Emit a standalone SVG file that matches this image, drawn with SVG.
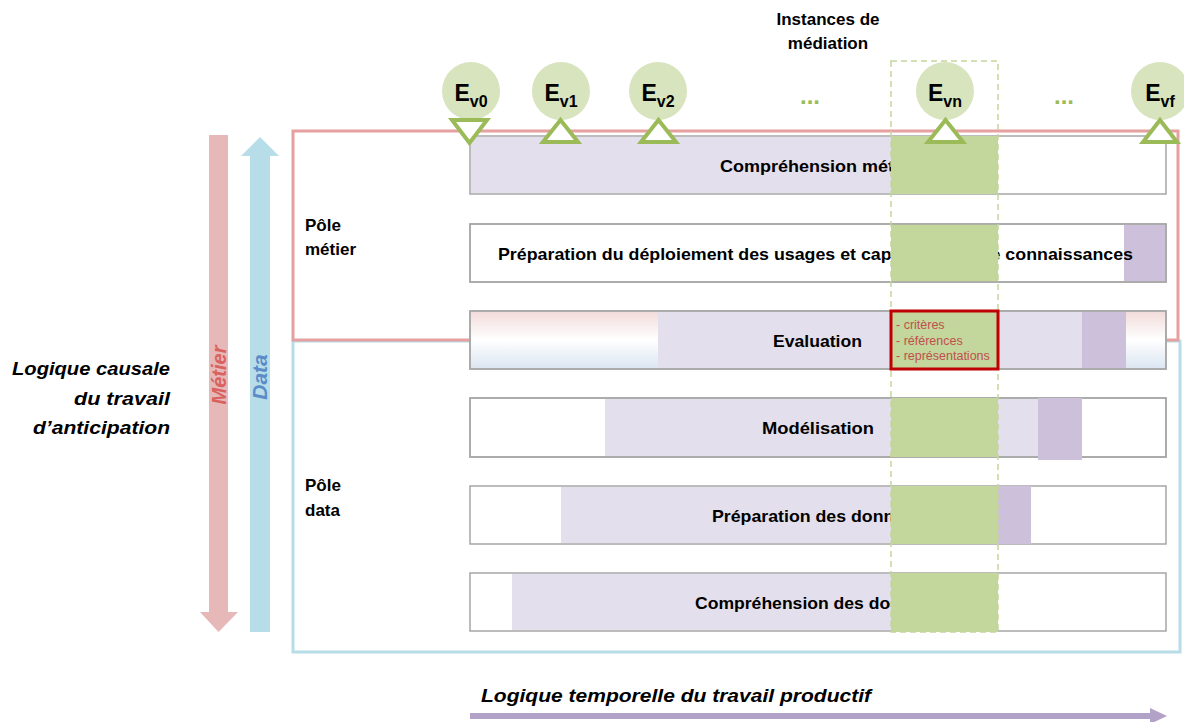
<svg xmlns="http://www.w3.org/2000/svg" width="1184" height="722" viewBox="0 0 1184 722">
<defs>
<linearGradient id="evalGrad" x1="0" y1="0" x2="0" y2="1">
<stop offset="0" stop-color="#F2DCDB"/>
<stop offset="0.5" stop-color="#FFFFFF"/>
<stop offset="1" stop-color="#DCE6F2"/>
</linearGradient>
<style>
.t{font-family:"Liberation Sans",Arial,sans-serif;font-weight:bold;fill:#000}
.lbl{font-size:17px}
.it{font-style:italic}
.row{fill:#FFFFFF;stroke:#A6A6A6;stroke-width:1.5}
.rowo{fill:none;stroke:#A6A6A6;stroke-width:1.5}
.lp{fill:#E4DFEC}
.dp{fill:#CCC0DA}
.gr{fill:#C3D69B}
.ev{fill:#D7E4BD}
.tri{fill:#FFFFFF;stroke:#9BBB59;stroke-width:4}
.dots{font-size:24px;fill:#9BBB59}
.crit{font-family:"Liberation Sans",Arial,sans-serif;font-size:12.5px;fill:#C0504D}
</style>
</defs>
<rect width="1184" height="722" fill="#FFFFFF"/>

<g id="pole-data-frame"><rect x="293" y="341" width="887" height="311" fill="none" stroke="#B7DDE8" stroke-width="3"/></g>
<g id="pole-metier-frame"><rect x="293" y="131" width="885" height="209" fill="none" stroke="#E6A0A0" stroke-width="3"/></g>

<g id="row-comprehension-metier">
<rect class="row" x="470" y="136" width="696" height="58"/>
<rect class="lp" x="471" y="137" width="420" height="56"/>
<text class="t lbl" x="720" y="171.5" textLength="196" lengthAdjust="spacingAndGlyphs">Compréhension métier</text>
<rect class="gr" x="891" y="136" width="107" height="58"/>
</g>

<g id="row-preparation-deploiement">
<rect class="row" x="470" y="224" width="696" height="58"/>
<rect class="dp" x="1124" y="225" width="41" height="56"/>
<text class="t lbl" x="498" y="259.5" textLength="635" lengthAdjust="spacingAndGlyphs">Préparation du déploiement des usages et capitalisation de connaissances</text>
<rect class="gr" x="891" y="224" width="107" height="58"/>
<rect class="rowo" x="470" y="224" width="696" height="58"/>
</g>

<g id="row-evaluation">
<rect class="row" x="470" y="311" width="696" height="58"/>
<rect x="471" y="312" width="187" height="56" fill="url(#evalGrad)"/>
<rect class="lp" x="658" y="312" width="424" height="56"/>
<rect class="dp" x="1082" y="312" width="44" height="56"/>
<rect x="1126" y="312" width="39" height="56" fill="url(#evalGrad)"/>
<rect class="rowo" x="470" y="311" width="696" height="58"/>
<text class="t lbl" x="773" y="346.5" textLength="89" lengthAdjust="spacingAndGlyphs">Evaluation</text>
</g>

<g id="row-modelisation">
<rect class="row" x="470" y="398" width="696" height="59"/>
<rect class="lp" x="605" y="399" width="433" height="57"/>
<rect class="rowo" x="470" y="398" width="696" height="59"/>
<rect class="dp" x="1038" y="398" width="44" height="62"/>
<text class="t lbl" x="762" y="434" textLength="112" lengthAdjust="spacingAndGlyphs">Modélisation</text>
<rect class="gr" x="891" y="398" width="107" height="59"/>
</g>

<g id="row-preparation-donnees">
<rect class="row" x="470" y="486" width="696" height="58"/>
<rect class="lp" x="561" y="487" width="330" height="56"/>
<rect class="dp" x="998" y="486" width="33" height="58"/>
<text class="t lbl" x="712" y="521.5" textLength="212" lengthAdjust="spacingAndGlyphs">Préparation des données</text>
<rect class="gr" x="891" y="486" width="107" height="58"/>
</g>

<g id="row-comprehension-donnees">
<rect class="row" x="470" y="573" width="696" height="58"/>
<rect class="lp" x="512" y="574" width="379" height="56"/>
<text class="t lbl" x="695" y="608.5" textLength="246" lengthAdjust="spacingAndGlyphs">Compréhension des données</text>
<rect class="gr" x="891" y="573" width="107" height="59"/>
</g>

<g id="mediation-instance">
<rect x="891" y="61" width="107" height="571" fill="none" stroke="#C3D69B" stroke-width="1.5" stroke-dasharray="6,4"/>
<rect x="891" y="311" width="107" height="58" fill="#C3D69B" stroke="#C00000" stroke-width="3"/>
<text class="crit" x="896" y="328.5">- critères</text>
<text class="crit" x="896" y="344.5">- références</text>
<text class="crit" x="896" y="360">- représentations</text>
</g>

<g id="title-instances">
<text class="t" x="828" y="25" font-size="17" text-anchor="middle">Instances de</text>
<text class="t" x="828" y="49" font-size="17" text-anchor="middle">médiation</text>
</g>

<g id="ev0">
<circle class="ev" cx="471" cy="91" r="29"/>
<text class="t" x="471" y="101" font-size="23" text-anchor="middle">E<tspan font-size="16" dy="6">v0</tspan></text>
<polygon class="tri" points="452,120 487,120 469.5,143"/>
</g>
<g id="ev1">
<circle class="ev" cx="561" cy="91" r="29"/>
<text class="t" x="561" y="101" font-size="23" text-anchor="middle">E<tspan font-size="16" dy="6">v1</tspan></text>
<polygon class="tri" points="543,142 578,142 560.5,120"/>
</g>
<g id="ev2">
<circle class="ev" cx="658" cy="91" r="29"/>
<text class="t" x="658" y="101" font-size="23" text-anchor="middle">E<tspan font-size="16" dy="6">v2</tspan></text>
<polygon class="tri" points="641,142 676,142 658.5,120"/>
</g>
<g id="dots-1"><text class="t dots" x="810" y="104" text-anchor="middle">...</text></g>
<g id="evn">
<circle class="ev" cx="945" cy="91" r="29"/>
<text class="t" x="945" y="101" font-size="23" text-anchor="middle">E<tspan font-size="16" dy="6">vn</tspan></text>
<polygon class="tri" points="928,142 963,142 945.5,120"/>
</g>
<g id="dots-2"><text class="t dots" x="1064" y="104" text-anchor="middle">...</text></g>
<g id="evf">
<circle class="ev" cx="1160" cy="91" r="29"/>
<text class="t" x="1160" y="101" font-size="23" text-anchor="middle">E<tspan font-size="16" dy="6">vf</tspan></text>
<polygon class="tri" points="1143,142 1177,142 1160,120"/>
</g>

<g id="pole-labels">
<text class="t" x="305" y="231" font-size="17">Pôle</text>
<text class="t" x="305" y="255" font-size="17">métier</text>
<text class="t" x="305" y="491" font-size="17">Pôle</text>
<text class="t" x="305" y="516" font-size="17">data</text>
</g>

<g id="connectors">
<polygon points="209,135 228,135 228,612 238,612 218.5,632 200,612 209,612" fill="#E6B8B7"/>
<polygon points="250,632 270,632 270,156 279,156 260,137 241,156 250,156" fill="#B7DDE8"/>
<line x1="470" y1="716" x2="1152" y2="716" stroke="#B3A2C7" stroke-width="6"/>
<polygon points="1150,708 1167,716 1150,724" fill="#B3A2C7"/>
</g>

<g id="axis-labels">
<text class="t it" x="226" y="375" font-size="20" style="fill:#D9625E" text-anchor="middle" transform="rotate(-90 226 375)">Métier</text>
<text class="t it" x="267" y="377" font-size="21" style="fill:#5B8BC9" text-anchor="middle" transform="rotate(-90 267 377)">Data</text>
<text class="t it" x="170" y="375" font-size="19" text-anchor="end" textLength="158" lengthAdjust="spacingAndGlyphs">Logique causale</text>
<text class="t it" x="170" y="405" font-size="19" text-anchor="end" textLength="96" lengthAdjust="spacingAndGlyphs">du travail</text>
<text class="t it" x="170" y="434" font-size="19" text-anchor="end" textLength="137" lengthAdjust="spacingAndGlyphs">d’anticipation</text>
<text class="t it" x="481" y="702" font-size="19" textLength="390" lengthAdjust="spacingAndGlyphs">Logique temporelle du travail productif</text>
</g>
</svg>
